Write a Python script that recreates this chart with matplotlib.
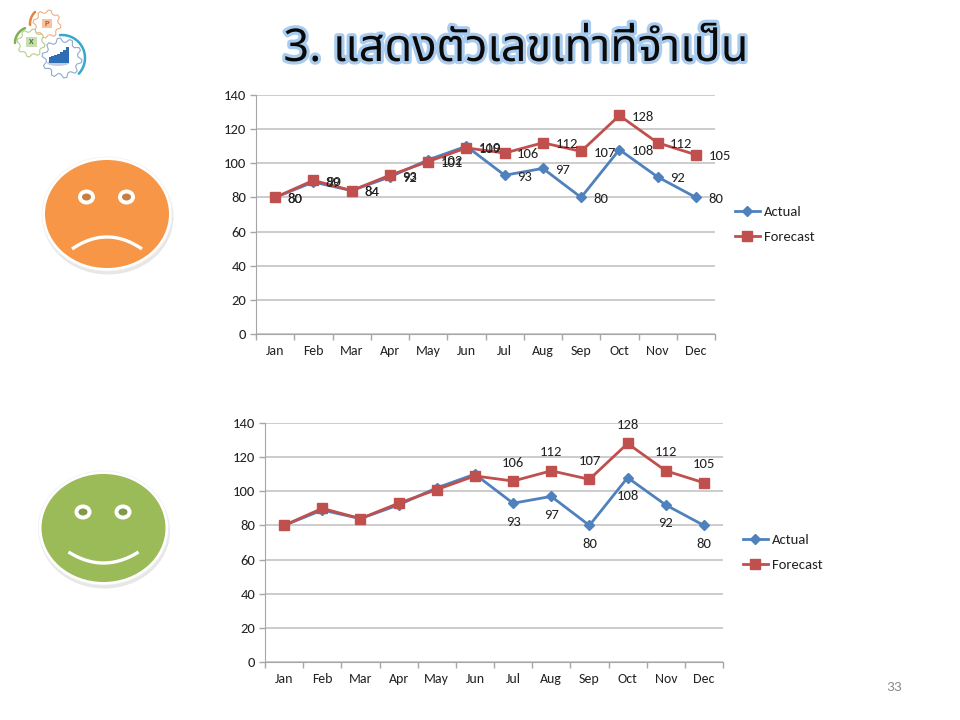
import numpy as np
import matplotlib
matplotlib.use('Agg')
import matplotlib.pyplot as plt
import matplotlib.patheffects as pe
from matplotlib.patches import Ellipse, Polygon, Rectangle

months = ['Jan', 'Feb', 'Mar', 'Apr', 'May', 'Jun', 'Jul', 'Aug', 'Sep', 'Oct', 'Nov', 'Dec']
actual = [80, 89, 84, 92, 102, 110, 93, 97, 80, 108, 92, 80]
forecast = [80, 90, 84, 93, 101, 109, 106, 112, 107, 128, 112, 105]
yticks = [0, 20, 40, 60, 80, 100, 120, 140]

title = '3. แสดงตัวเลขเท่าที่จำเป็น'
page_no = '33'

BLUE = '#4F81BD'
RED = '#C0504D'
GRID = '#BFBFBF'
TXT = '#222222'
plt.rcParams['font.family'] = ['Carlito', 'Lato', 'DejaVu Sans']

W, H = 960, 720


def chart(box, legend_pos, labels_on_all):
    # box is left, top, right, bottom in pixels
    l, t, r, b = box
    ax = fig.add_axes([l / W, 1 - b / H, (r - l) / W, (b - t) / H])
    x = np.arange(len(months))
    ax.plot(x, actual, color=BLUE, lw=2.0, marker='D', ms=5.5, label='Actual', zorder=3)
    ax.plot(x, forecast, color=RED, lw=2.0, marker='s', ms=7.5, label='Forecast', zorder=4)
    ax.set_xlim(-0.5, 11.5)
    ax.set_ylim(0, 140)
    ax.set_yticks(yticks)
    ax.set_xticks(np.arange(-0.5, 12, 1))
    ax.set_xticklabels([])
    ax.set_xticks(x, minor=True)
    ax.set_xticklabels(months, minor=True, fontsize=10, color=TXT)
    ax.tick_params(axis='x', which='minor', length=0, pad=8)
    ax.tick_params(axis='x', which='major', length=4, color='#A6A6A6', width=1)
    ax.tick_params(axis='y', length=4, color='#A6A6A6', width=1, labelsize=10.5, labelcolor=TXT, pad=3)
    ax.grid(axis='y', color=GRID, lw=1.1)
    ax.set_axisbelow(True)
    for s in ['top', 'right']:
        ax.spines[s].set_visible(False)
    for s in ['left', 'bottom']:
        ax.spines[s].set_color('#A6A6A6')
    if labels_on_all:
        for i in x:
            ax.annotate(str(actual[i]), (i, actual[i]), xytext=(9, -1), textcoords='offset points',
                        fontsize=10.5, color=TXT, va='center', zorder=5)
            ax.annotate(str(forecast[i]), (i, forecast[i]), xytext=(9, -1), textcoords='offset points',
                        fontsize=10.5, color=TXT, va='center', zorder=5)
    else:
        for i in x[6:]:
            ax.annotate(str(forecast[i]), (i, forecast[i]), xytext=(0, 9), textcoords='offset points',
                        fontsize=10.5, color=TXT, ha='center', va='bottom', zorder=5)
            ax.annotate(str(actual[i]), (i, actual[i]), xytext=(0, -9), textcoords='offset points',
                        fontsize=10.5, color=TXT, ha='center', va='top', zorder=5)
    ax.legend(loc='upper left', bbox_to_anchor=(legend_pos[0] / W, 1 - legend_pos[1] / H),
              bbox_transform=fig.transFigure, frameon=False, fontsize=10.5, labelspacing=0.9,
              handlelength=1.7, handletextpad=0.3, borderaxespad=0, borderpad=0,
              labelcolor=TXT)
    return ax


def gear(cx, cy, r, teeth, color, lw=0.8):
    a = np.linspace(0, 2 * np.pi, teeth * 4, endpoint=False) + np.pi / (teeth * 4)
    rad = np.tile([r, r, r * 0.8, r * 0.8], teeth)
    bg.add_patch(Polygon(np.c_[cx + rad * np.cos(a), cy + rad * np.sin(a)], closed=True,
                         fc='white', ec=color, lw=lw, joinstyle='round'))


def swoosh(cx, cy, r, a0, a1, color):
    t = np.radians(np.linspace(a0, a1, 30))
    bg.plot(cx + r * np.cos(t), cy + r * np.sin(t), color=color, lw=1.8, solid_capstyle='round')


def face(cx, cy, color, eye, mouth_y, bend):
    bg.add_patch(Ellipse((cx + 1, cy + 3), 131, 115, fc='#D8D8D8', ec='none', alpha=0.6))
    bg.add_patch(Ellipse((cx, cy), 130, 114, fc='white', ec='#F0F0F0', lw=0.5))
    bg.add_patch(Ellipse((cx, cy), 124, 108, fc=color, ec='none'))
    for dx in (-20, 20):
        ex = cx + dx - 0.5
        ey = cy - 17 if bend < 0 else cy - 16
        bg.add_patch(Ellipse((ex, ey), 17, 15, fc='white', ec='none'))
        bg.add_patch(Ellipse((ex, ey), 9, 7, fc=eye, ec='none'))
    t = np.linspace(-1, 1, 40)
    bg.plot(cx + 35 * t, mouth_y + bend * (1 - t ** 2), color='white', lw=2.4, solid_capstyle='butt')


fig = plt.figure(figsize=(W / 100, H / 100), dpi=100, facecolor='white')

# full page layer in pixels for the slide decorations
bg = fig.add_axes([0, 0, 1, 1])
bg.set_xlim(0, W)
bg.set_ylim(H, 0)
bg.axis('off')

# logo
gear(47, 24, 14, 8, '#F0B080')
bg.add_patch(Rectangle((42, 19), 10, 9, fc='#F2C4A0', ec='none'))
bg.text(47, 23.5, 'P', fontsize=6, color='#C8502A', ha='center', va='center', weight='bold')
gear(31, 43, 14, 8, '#B5CE8E')
bg.add_patch(Rectangle((26, 37), 11, 10, fc='#C9DDB0', ec='none'))
bg.text(31, 42, 'X', fontsize=6, color='#3F7A35', ha='center', va='center', weight='bold')
gear(62, 58, 20, 10, '#8FAAD0')
bg.add_patch(Ellipse((58, 63), 22, 6, fc='#C5CEDC', ec='none'))
for i, hh in enumerate([6, 7, 8, 9, 11, 13, 16]):
    bg.add_patch(Rectangle((48.5 + i * 2.95, 63 - hh), 2.4, hh, fc='#2F6DB5', ec='none'))
swoosh(62, 58, 23, -95, 43, '#35A9C9')
swoosh(47, 24, 17, 225, 177, '#E9823A')
swoosh(31, 43, 16, 248, 180, '#7FB04F')

face(107, 214, '#F79646', '#C87F3F', 249, -12)
face(103.5, 528, '#9BBB59', '#7F9A48', 552, 11)

bg.text(516, 49, title, fontsize=32.5, ha='center', va='center', color='#0A0A0A',
        family=['Noto Sans Thai', 'DejaVu Sans'],
        path_effects=[pe.withStroke(linewidth=4.5, foreground='#A9CBEE')])
bg.text(894, 687, page_no, fontsize=11, color='#8C8C8C', ha='center', va='center')

chart((256, 95, 715, 334), (735, 205.5), True)
chart((265, 423, 723, 662), (743, 533.5), False)

fig.savefig('out.png', dpi=100)
